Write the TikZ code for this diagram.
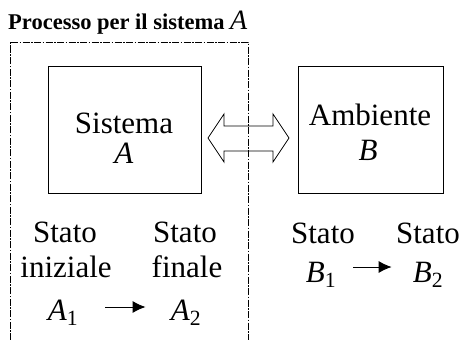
\documentclass[tikz,border=0pt]{standalone}
\usepackage{fontspec}
\setmainfont{Liberation Serif}
\usetikzlibrary{arrows.meta}
\tikzset{
        sysbox/.style={draw, line width=0.8pt, inner sep=0pt},
        big/.style={font=\fontsize{31}{35}\selectfont, inner sep=0pt, anchor=base},
        trans/.style={-{Latex[length=13pt,width=12pt]}, line width=1pt},
        frame/.style={line width=0.9pt, dash pattern=on 7pt off 1.5pt on 1.5pt off 1.5pt}
    }

\begin{document}
\begin{tikzpicture}[x=1pt,y=-1pt]
\useasboundingbox (0,0) rectangle (461,340);
\node (title)[anchor=base west, inner sep=0pt, font=\fontsize{22.5}{26}\selectfont\bfseries] at (8,29)
{Processo per il sistema \mdseries\itshape\fontsize{28}{30}\selectfont A};
\draw[frame] (10,340) -- (10,42) -- (248,42) -- (248,340);

\node (SA)[sysbox, minimum width=153pt, minimum height=127pt] at (124.5,130) {};
\node (SAt)[big] at (124,133) {Sistema};
\node (SAv)[big] at (124,163) {\textit{A}};
\node (AB)[sysbox, minimum width=145pt, minimum height=127pt] at (370.5,129.5) {};
\node (ABt)[big] at (370,125) {Ambiente};
\node (ABv)[big] at (368,160) {\textit{B}};

\draw[line width=0.8pt] (208,138) -- (224,114) -- (224,126) -- (273,126) -- (273,114)
-- (289,138) -- (273,162) -- (273,151) -- (224,151) -- (224,162) -- cycle;

\node (A1s)[big] at (65,242) {Stato};
\node (A1n)[big] at (66,277) {iniziale};
\node (A1)[big] at (63,320) {\textit{A}\textsubscript{1}};
\node (A2s)[big] at (185,242) {Stato};
\node (A2n)[big] at (187,277) {finale};
\node (A2)[big] at (186,320) {\textit{A}\textsubscript{2}};
\draw[trans] ([xshift=27pt,yshift=13pt]A1.base east) -- ([xshift=-25pt,yshift=13pt]A2.base west);

\node (B1s)[big] at (323,243) {Stato};
\node (B1)[big] at (321,282) {\textit{B}\textsubscript{1}};
\node (B2s)[big] at (428,243) {Stato};
\node (B2)[big] at (428,282) {\textit{B}\textsubscript{2}};
\draw[trans] ([xshift=17pt,yshift=15pt]B1.base east) -- ([xshift=-21pt,yshift=15pt]B2.base west);
\end{tikzpicture}
\end{document}
